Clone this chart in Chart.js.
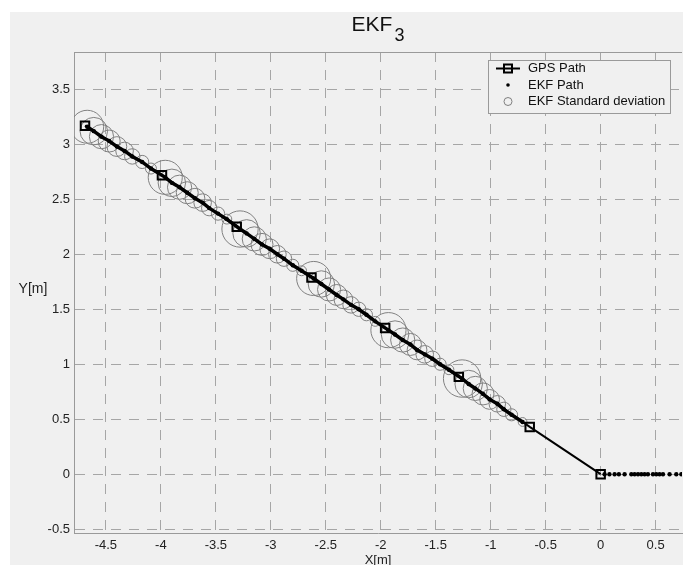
<!DOCTYPE html>
<html>
<head>
<meta charset="utf-8">
<script src="https://cdn.jsdelivr.net/npm/chart.js@4.4.0/dist/chart.umd.min.js"></script>
<style>
  html, body { margin: 0; padding: 0; background: #fff; overflow: hidden; width: 683px; height: 565px; }
  #wrap { position: absolute; left: 10px; top: 12px; width: 700px; height: 565px; background: #f0f0f0; }
</style>
</head>
<body>
<div id="wrap"><canvas id="ekfChart"></canvas></div>
<script>
// ==========================
// DATA
// ==========================
const gpsX = [-4.69, -3.99, -3.31, -2.63, -1.96, -1.29, -0.645, 0];
const gpsY = [3.17, 2.72, 2.25, 1.79, 1.33, 0.885, 0.43, 0];

// EKF estimates along the path (one row per GPS interval)
const ekfX = [
  -4.67, -4.61, -4.54, -4.47, -4.40, -4.33, -4.26, -4.17, -4.09,
  -3.96, -3.90, -3.83, -3.76, -3.69, -3.62, -3.56, -3.48, -3.40,
  -3.28, -3.22, -3.15, -3.08, -3.01, -2.94, -2.88, -2.80, -2.72,
  -2.61, -2.54, -2.47, -2.40, -2.34, -2.27, -2.20, -2.13, -2.05,
  -1.93, -1.87, -1.80, -1.73, -1.67, -1.60, -1.53, -1.46, -1.38,
  -1.26, -1.20, -1.14, -1.07, -1.01, -0.94, -0.88, -0.81, -0.71
];
const ekfY = [
  3.16, 3.12, 3.07, 3.03, 2.98, 2.94, 2.89, 2.84, 2.78,
  2.70, 2.65, 2.61, 2.56, 2.51, 2.47, 2.42, 2.37, 2.32,
  2.23, 2.19, 2.14, 2.09, 2.05, 2.00, 1.96, 1.90, 1.85,
  1.78, 1.73, 1.68, 1.63, 1.59, 1.54, 1.50, 1.45, 1.39,
  1.31, 1.27, 1.22, 1.18, 1.13, 1.09, 1.05, 1.00, 0.95,
  0.87, 0.82, 0.78, 0.73, 0.68, 0.64, 0.59, 0.54, 0.475
];
// standard deviation [m], drawn as circle radius
const ekfSd = [
  0.15, 0.125, 0.11, 0.10, 0.09, 0.08, 0.07, 0.06, 0.05,
  0.155, 0.125, 0.11, 0.10, 0.09, 0.08, 0.07, 0.06, 0.045,
  0.165, 0.125, 0.11, 0.10, 0.09, 0.08, 0.07, 0.055, 0.045,
  0.155, 0.12, 0.105, 0.095, 0.085, 0.075, 0.065, 0.055, 0.045,
  0.16, 0.125, 0.11, 0.10, 0.09, 0.08, 0.07, 0.055, 0.045,
  0.17, 0.125, 0.11, 0.10, 0.09, 0.075, 0.065, 0.055, 0.04
];

// EKF points on the x axis (before the first GPS fix)
const idleX = [0.036, 0.08, 0.127, 0.166, 0.218, 0.279, 0.309, 0.34, 0.37, 0.40, 0.43, 0.476, 0.506, 0.536, 0.567, 0.627, 0.688, 0.734];
const idleY = [0, 0, 0, 0, 0, 0, 0, 0, 0, 0, 0, 0, 0, 0, 0, 0, 0, 0];

const xTicks = [-4.5, -4, -3.5, -3, -2.5, -2, -1.5, -1, -0.5, 0, 0.5];
const yTicks = [-0.5, 0, 0.5, 1, 1.5, 2, 2.5, 3, 3.5];

const titleMain = 'EKF';
const titleSub = '3';


// ==========================
// HELPERS
// ==========================
const FONT = '"Liberation Sans", Arial, sans-serif';
const GRID = '#a6a6a6';
const FRAME = '#9a9a9a';
const CIRCLE = '#808080';

function pts(xs, ys) {
    return xs.map((x, i) => ({ x: x, y: ys[i] }));
}

function pxPerMeter(chart) {
    const sx = chart.scales.x;
    return Math.abs(sx.getPixelForValue(1) - sx.getPixelForValue(0));
}


// ==========================
// TITLE, FRAME, LEGEND
// ==========================
const decorations = {
    id: 'decorations',
    afterDatasetsDraw(chart) {
        const ctx = chart.ctx;
        const a = chart.chartArea;
        ctx.save();

        // top frame line
        ctx.strokeStyle = FRAME;
        ctx.lineWidth = 1;
        ctx.setLineDash([]);
        ctx.beginPath();
        ctx.moveTo(a.left, a.top + 0.5);
        ctx.lineTo(a.right, a.top + 0.5);
        ctx.stroke();

        // title with subscript
        ctx.fillStyle = '#111';
        ctx.textBaseline = 'alphabetic';
        ctx.textAlign = 'left';
        ctx.font = '21px ' + FONT;
        const wMain = ctx.measureText(titleMain).width;
        ctx.font = '18px ' + FONT;
        const wSub = ctx.measureText(titleSub).width;
        const tx = (a.left + a.right) / 2 - (wMain + 2 + wSub) / 2;
        ctx.font = '21px ' + FONT;
        ctx.fillText(titleMain, tx, 19);
        ctx.font = '18px ' + FONT;
        ctx.fillText(titleSub, tx + wMain + 2, 29);

        // horizontal y label
        ctx.font = '14px ' + FONT;
        ctx.textAlign = 'center';
        ctx.textBaseline = 'middle';
        ctx.fillStyle = '#222';
        ctx.fillText('Y[m]', 23, (a.top + a.bottom) / 2 - 3);

        // legend box
        const ds = chart.data.datasets;
        const bw = 182, bh = 53;
        const bx = a.right - 12 - bw, by = a.top + 8;
        ctx.fillStyle = '#f0f0f0';
        ctx.fillRect(bx, by, bw, bh);
        ctx.strokeStyle = FRAME;
        ctx.strokeRect(bx + 0.5, by + 0.5, bw, bh);

        const rows = [by + 8.5, by + 25, by + 41.5];
        const sx = bx + 20;

        // GPS Path: line + square
        ctx.strokeStyle = '#000';
        ctx.lineWidth = 2;
        ctx.beginPath();
        ctx.moveTo(bx + 8, rows[0]);
        ctx.lineTo(bx + 32, rows[0]);
        ctx.stroke();
        ctx.strokeRect(sx - 4, rows[0] - 4, 8, 8);

        // EKF Path: dot
        ctx.fillStyle = '#000';
        ctx.beginPath();
        ctx.arc(sx, rows[1], 1.8, 0, Math.PI * 2);
        ctx.fill();

        // EKF Standard deviation: circle
        ctx.strokeStyle = CIRCLE;
        ctx.lineWidth = 1;
        ctx.beginPath();
        ctx.arc(sx, rows[2], 4, 0, Math.PI * 2);
        ctx.stroke();

        ctx.fillStyle = '#111';
        ctx.font = '13px ' + FONT;
        ctx.textAlign = 'left';
        ctx.textBaseline = 'middle';
        ds.forEach((d, i) => ctx.fillText(d.label, bx + 40, rows[i]));

        ctx.restore();
    }
};


// ==========================
// CHART
// ==========================
const ctx = document.getElementById('ekfChart').getContext('2d');

// the EKF dots are dense enough on the diagonal to read as a thick line;
// on the x axis they stay separate
const lastDiag = ekfX.length - 1;

const ekfChart = new Chart(ctx, {

    type: 'scatter',

    data: {
        datasets: [
            {
                label: 'GPS Path',
                data: pts(gpsX, gpsY),
                showLine: true,
                borderColor: '#000',
                borderWidth: 2,
                pointStyle: 'rect',
                pointRadius: 6,
                pointBorderWidth: 2,
                pointBorderColor: '#000',
                pointBackgroundColor: 'rgba(0,0,0,0)'
            },
            {
                label: 'EKF Path',
                data: pts(ekfX.concat(idleX), ekfY.concat(idleY)),
                showLine: true,
                borderWidth: 3.5,
                borderColor: '#000',
                segment: {
                    borderColor: c => (c.p0DataIndex >= lastDiag ? 'rgba(0,0,0,0)' : '#000')
                },
                pointRadius: 2.2,
                pointBorderWidth: 0,
                pointBackgroundColor: '#000'
            },
            {
                label: 'EKF Standard deviation',
                data: pts(ekfX, ekfY),
                pointRadius: c => (c.dataIndex === undefined ? 4 : ekfSd[c.dataIndex] * pxPerMeter(c.chart)),
                pointBorderWidth: 1,
                pointBorderColor: CIRCLE,
                pointBackgroundColor: 'rgba(0,0,0,0)'
            }
        ]
    },

    options: {
        responsive: true,
        maintainAspectRatio: false,
        animation: false,
        events: [],
        layout: { padding: { top: 40, right: 28, left: 0, bottom: 0 } },
        plugins: {
            legend: { display: false },
            title: { display: false },
            tooltip: { enabled: false }
        },
        scales: {
            x: {
                type: 'linear',
                min: -4.79,
                max: 0.74,
                afterBuildTicks: axis => { axis.ticks = xTicks.map(v => ({ value: v })); },
                afterFit: axis => { axis.height = 44; },
                ticks: {
                    padding: 5,
                    color: '#222',
                    font: { family: FONT, size: 13 },
                    callback: v => String(v)
                },
                grid: { color: GRID, lineWidth: 1, drawTicks: false },
                border: { color: FRAME, width: 1, dash: [10, 8] },
                title: {
                    display: true,
                    text: 'X[m]',
                    color: '#222',
                    font: { family: FONT, size: 13 },
                    padding: { top: 0, bottom: 9 }
                }
            },
            y: {
                type: 'linear',
                min: -0.535,
                max: 3.84,
                afterBuildTicks: axis => { axis.ticks = yTicks.map(v => ({ value: v })); },
                afterFit: axis => { axis.width = 64; },
                ticks: {
                    padding: 4,
                    color: '#222',
                    font: { family: FONT, size: 13 },
                    callback: v => String(v)
                },
                grid: { color: GRID, lineWidth: 1, drawTicks: false },
                border: { color: FRAME, width: 1, dash: [10, 8] }
            }
        }
    },

    plugins: [decorations]

});
</script>
</body>
</html>
